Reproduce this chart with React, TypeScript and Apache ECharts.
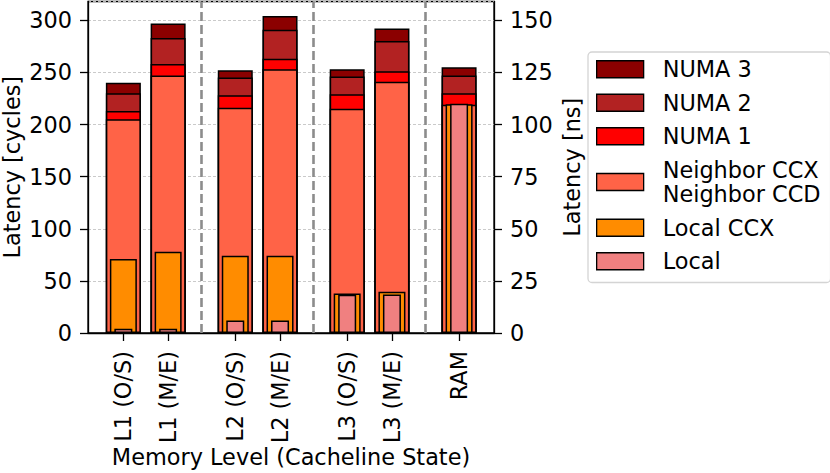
import React, { useEffect, useRef } from "react";
import * as echarts from "echarts";

const categories = ["L1 (O/S)", "L1 (M/E)", "L2 (O/S)", "L2 (M/E)", "L3 (O/S)", "L3 (M/E)", "RAM"];
const positions = [0, 1, 2.5, 3.5, 5, 6, 7.5];
const separators = [1.75, 4.25, 6.75];

const numa3 = [240, 297, 252, 304, 253, 292, 255];
const numa2 = [230, 283, 245, 291, 246, 280, 247];
const numa1 = [213, 258, 228, 263, 229, 251, 230];
const neighbor = [205, 247, 216, 253, 215, 241, 219];
const localCcx = [71, 78, 74, 74, 38, 39.5, 219.5];
const local = [4, 4, 12, 12, 36.7, 37, 220];

const cyclesTicks = { min: 0, max: 318, interval: 50 };
const nsTicks = { min: 0, max: 159, interval: 25 };

const NAME_NUMA3 = "NUMA 3";
const NAME_NUMA2 = "NUMA 2";
const NAME_NUMA1 = "NUMA 1";
const NAME_NEIGH = "Neighbor CCX\nNeighbor CCD";
const NAME_LCCX = "Local CCX";
const NAME_LOCAL = "Local";

const FONT = "DejaVu Sans";
const FS = 22.4;

export default function App() {
  const ref = useRef<HTMLDivElement>(null);
  useEffect(() => {
    if (!ref.current) return;
    const chart = echarts.init(ref.current, null, { renderer: "svg" });

    const bar = (name: string, values: number[], color: string, xi: number, width: number, extra: any = {}) => ({
      type: "bar",
      name,
      xAxisIndex: xi,
      yAxisIndex: 0,
      barWidth: width,
      barGap: "-100%",
      data: positions.map((p, i) => [p, values[i]]),
      itemStyle: { color, borderColor: "#000", borderWidth: 1.5 },
      emphasis: { disabled: true },
      ...extra,
    });

    const titleStyle = { fontFamily: FONT, fontSize: FS, color: "#000", lineHeight: 22 };

    const xAxisBase = (i: number) => ({
      type: "value",
      min: -0.79,
      max: 8.28,
      show: i === 0,
      gridIndex: 0,
      splitLine: { show: false },
      axisLine: { show: true, onZero: false, lineStyle: { color: "#000", width: 1.3 } },
      axisTick: { show: true, customValues: positions, length: 8, lineStyle: { color: "#000", width: 1.3 } },
      axisLabel: {
        show: true,
        customValues: positions,
        rotate: 90,
        margin: 18,
        fontFamily: FONT,
        fontSize: FS,
        color: "#000",
        formatter: (v: number) => {
          const idx = positions.findIndex((p) => Math.abs(p - v) < 1e-6);
          return idx >= 0 ? categories[idx] : "";
        },
      },
      name: i === 0 ? "Memory Level (Cacheline State)" : "",
      nameLocation: "middle",
      nameGap: 113,
      nameMoveOverlap: false,
      nameTextStyle: titleStyle,
    });

    const yCommon = {
      type: "value",
      nameLocation: "middle",
      nameTextStyle: titleStyle,
      axisLine: { show: true, onZero: false, lineStyle: { color: "#000", width: 1.3 } },
      axisTick: { show: true, length: 8, lineStyle: { color: "#000", width: 1.3 } },
      axisLabel: { margin: 16, fontFamily: FONT, fontSize: FS, color: "#000" },
    };

    const option: any = {
      animation: false,
      backgroundColor: "#fff",
      grid: {
        left: 88,
        right: 336,
        top: 1.5,
        bottom: 140,
        show: true,
        containLabel: false,
        outerBoundsMode: "none",
        borderColor: "#000",
        borderWidth: 1.3,
        backgroundColor: "transparent",
      },
      legend: {
        orient: "vertical",
        left: 588,
        top: 52,
        icon: "rect",
        itemWidth: 47,
        itemHeight: 17,
        itemGap: 9,
        padding: [5, 10, 9, 8],
        borderColor: "#d4d4d4",
        borderWidth: 1.3,
        borderRadius: 4,
        backgroundColor: "#fff",
        selectedMode: false,
        itemStyle: { borderColor: "#000", borderWidth: 1.3 },
        textStyle: { fontFamily: FONT, fontSize: FS, color: "#000", lineHeight: 24.5, padding: [0, 0, 0, 14] },
        data: [NAME_NUMA3, NAME_NUMA2, NAME_NUMA1, NAME_NEIGH, NAME_LCCX, NAME_LOCAL],
      },
      xAxis: [xAxisBase(0), xAxisBase(1), xAxisBase(2)],
      yAxis: [
        {
          ...yCommon,
          position: "left",
          ...cyclesTicks,
          name: "Latency [cycles]",
          nameGap: 65,
          splitLine: { show: true, lineStyle: { color: "#c4c4c4", width: 0.9, type: [3, 2] } },
        },
        {
          ...yCommon,
          position: "right",
          ...nsTicks,
          name: "Latency [ns]",
          nameGap: 67,
          splitLine: { show: false },
        },
      ],
      series: [
        bar(NAME_NUMA3, numa3, "#8B0000", 0, 35, {
          markLine: {
            silent: true,
            symbol: ["none", "none"],
            label: { show: false },
            lineStyle: { color: "#8c8c8c", width: 2.6, type: [9, 4] },
            data: separators.map((s) => ({ xAxis: s })),
          },
        }),
        bar(NAME_NUMA2, numa2, "#B22222", 0, 35),
        bar(NAME_NUMA1, numa1, "#FF0000", 0, 35),
        bar(NAME_NEIGH, neighbor, "#FF6347", 0, 35),
        bar(NAME_LCCX, localCcx, "#FF8C00", 1, 27),
        bar(NAME_LOCAL, local, "#F08080", 2, 18),
      ],
    };

    chart.setOption(option);
    return () => chart.dispose();
  }, []);

  return (
    <div
      ref={ref}
      style={{ position: "fixed", left: 0, top: 0, width: 830, height: 473, background: "#fff" }}
    />
  );
}
